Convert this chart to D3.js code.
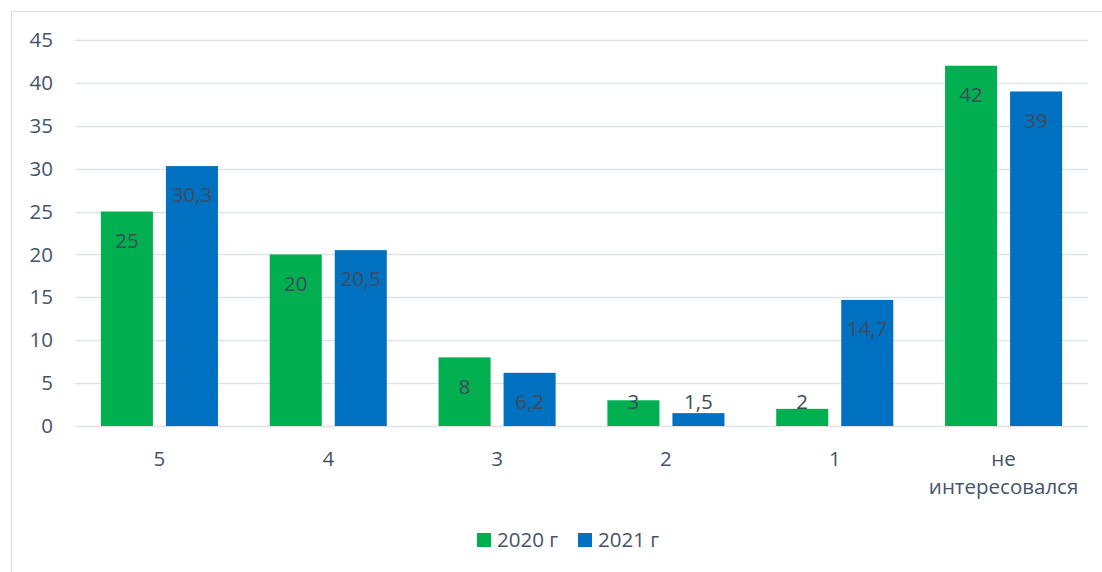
<!DOCTYPE html>
<html>
<head>
<meta charset="utf-8">
<script src="https://cdn.jsdelivr.net/npm/d3@7"></script>
<style>
  html, body { margin: 0; padding: 0; background: #fff; }
  svg { display: block; }
  text { font-family: "Open Sans", sans-serif; fill: #44546A; }
</style>
</head>
<body>
<svg id="chart" width="1102" height="572"></svg>
<script>
const categories = ["5", "4", "3", "2", "1", "не\nинтересовался"];
const seriesNames = ["2020 г", "2021 г"];
const values2020 = [25, 20, 8, 3, 2, 42];
const values2021 = [30.3, 20.5, 6.2, 1.5, 14.7, 39];
const yTicks = [0, 5, 10, 15, 20, 25, 30, 35, 40, 45];
const colors = ["#00B050", "#0070C0"];

const series = [values2020, values2021];
const svg = d3.select("#chart");
const fontSize = "20.5px";

// outer frame
svg.append("rect")
  .attr("x", 11.5).attr("y", 11.5)
  .attr("width", 1102).attr("height", 572)
  .attr("fill", "none").attr("stroke", "#D9DDE4").attr("stroke-width", 1);

const plotLeft = 75, plotRight = 1088, plotTop = 40, plotBottom = 426;

const x0 = d3.scaleBand().domain(categories).range([plotLeft, plotRight]).padding(0);
const x1 = d3.scaleBand().domain(seriesNames).range([0, x0.bandwidth()])
  .paddingInner(0.2).paddingOuter(0.398);
const y = d3.scaleLinear().domain([0, 45]).range([plotBottom, plotTop]);

// gridlines
svg.append("g").selectAll("line").data(yTicks).join("line")
  .attr("x1", plotLeft).attr("x2", plotRight)
  .attr("y1", d => Math.round(y(d)) + 0.5).attr("y2", d => Math.round(y(d)) + 0.5)
  .attr("stroke", "#DDE1E8").attr("stroke-width", 1.5);

// y axis labels
const yAxis = d3.axisLeft(y).tickValues(yTicks).tickSize(0).tickPadding(0);
const yg = svg.append("g").attr("transform", `translate(${plotLeft - 22},0)`).call(yAxis);
yg.select(".domain").remove();
yg.attr("font-family", null).attr("font-size", null);
yg.selectAll("text").style("font-size", fontSize).attr("fill", "#44546A");

// bars
const groups = svg.append("g").selectAll("g").data(categories).join("g")
  .attr("transform", d => `translate(${x0(d)},0)`);

const rows = (d, i) => seriesNames.map((s, k) => ({ s, v: series[k][i], k }));

groups.selectAll("rect").data(rows)
  .join("rect")
  .attr("x", d => x1(d.s))
  .attr("width", x1.bandwidth())
  .attr("y", d => y(d.v))
  .attr("height", d => y(0) - y(d.v))
  .attr("fill", d => colors[d.k]);

// value labels, inside the bar end
groups.selectAll("text.val").data(rows)
  .join("text")
  .attr("class", "val")
  .attr("x", d => x1(d.s) + x1.bandwidth() / 2)
  .attr("y", d => Math.min(y(d.v) + 29, plotBottom - 24))
  .attr("dy", "0.35em")
  .attr("text-anchor", "middle")
  .style("font-size", fontSize)
  .style("fill", "#404B5A")
  .text(d => String(d.v).replace(".", ","));

// category labels
const xg = svg.append("g");
categories.forEach(c => {
  const cx = x0(c) + x0.bandwidth() / 2;
  const t = xg.append("text")
    .attr("x", cx)
    .attr("y", 466)
    .attr("text-anchor", "middle")
    .style("font-size", fontSize);
  c.split("\n").forEach((ln, i) => {
    t.append("tspan").attr("x", cx).attr("dy", i === 0 ? 0 : 28).text(ln);
  });
});

// legend
const legend = svg.append("g");
const legendX = [477, 578];
seriesNames.forEach((s, k) => {
  legend.append("rect").attr("x", legendX[k]).attr("y", 533).attr("width", 14).attr("height", 14).attr("fill", colors[k]);
  legend.append("text").attr("x", legendX[k] + 20).attr("y", 540).attr("dy", "0.35em")
    .style("font-size", fontSize).text(s);
});
</script>
</body>
</html>
